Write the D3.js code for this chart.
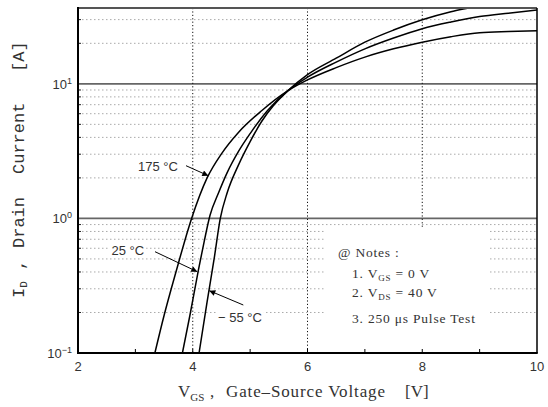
<!DOCTYPE html>
<html><head><meta charset="utf-8">
<script src="https://cdn.jsdelivr.net/npm/d3@7"></script>
<style>
body{margin:0;background:#fff;}
svg{display:block;}
</style></head><body>
<svg id="c" width="548" height="407"></svg>
<script>
// ---- data ----
const xTickLabels = [2, 4, 6, 8, 10];
const xMinorTicks = [3, 4, 5, 6, 7, 8, 9];
const xGridLines = [4, 6, 8];
const yMajorValues = [0.1, 1, 10];
const yMajorExponents = ["\u22121", "0", "1"];
const yMinorValues = [0.2,0.3,0.4,0.5,0.6,0.7,0.8,0.9,2,3,4,5,6,7,8,9,20,30];

const vgs175 = [3.34, 3.5, 3.7, 3.98, 4.25, 4.5, 4.8, 5.2, 5.66, 6.0, 6.5, 7.0, 7.5, 8.0, 8.5, 9.0, 9.5, 10.0];
const id175  = [0.1, 0.19, 0.39, 1.0, 2.0, 3.02, 4.37, 6.31, 8.9, 10.7, 13.2, 15.8, 18.2, 20.4, 22.4, 24.0, 24.5, 24.8];
const vgs25  = [3.82, 3.95, 4.1, 4.2, 4.3, 4.45, 4.6, 4.8, 5.0, 5.3, 5.66, 6.0, 6.5, 7.0, 7.5, 8.0, 8.5, 9.0, 9.5, 10.0];
const id25   = [0.1, 0.19, 0.417, 0.676, 1.05, 1.55, 2.19, 3.16, 4.27, 6.31, 8.9, 11.2, 14.5, 18.2, 21.9, 25.7, 28.8, 31.6, 33.5, 35.3];
const vgsM55 = [4.11, 4.25, 4.38, 4.48, 4.6, 4.8, 5.0, 5.2, 5.4, 5.66, 6.0, 6.5, 7.0, 7.5, 8.0, 8.5, 8.8, 9.2];
const idM55  = [0.1, 0.24, 0.525, 1.0, 1.55, 2.51, 3.72, 5.25, 6.84, 8.9, 11.7, 15.5, 20.4, 25.1, 29.9, 34.3, 36.6, 39.8];

const seriesNames = ["175 \u00B0C", "25 \u00B0C", "\u2212 55 \u00B0C"];
const notes = ["@ Notes :", "1. V", "2. V", "3. 250 \u03BCs Pulse Test"];

// ---- layout ----
const L = 78, R = 537, T = 8, B = 353;
const svg = d3.select("#c");
const x = d3.scaleLinear().domain([2, 10]).range([L, R]);
const y = d3.scaleLog().domain([0.1, 36.6]).range([B, T]);

const defs = svg.append("defs");
defs.append("clipPath").attr("id", "clip").append("rect")
  .attr("x", L).attr("y", T).attr("width", R - L).attr("height", B - T);
defs.append("marker").attr("id", "arr").attr("viewBox", "0 0 10 10")
  .attr("refX", 10).attr("refY", 5).attr("markerWidth", 9).attr("markerHeight", 6)
  .attr("markerUnits", "userSpaceOnUse").attr("orient", "auto")
  .append("path").attr("d", "M0,0L10,5L0,10z").attr("fill", "#000");

// minor horizontal grid
svg.append("g").selectAll("line").data(yMinorValues).join("line")
  .attr("x1", L).attr("x2", R).attr("y1", d => y(d)).attr("y2", d => y(d))
  .attr("stroke", "#aaa").attr("stroke-width", 1).attr("stroke-dasharray", "1.5,2.5");
// minor left ticks
svg.append("g").selectAll("line").data(yMinorValues).join("line")
  .attr("x1", L).attr("x2", L + 3).attr("y1", d => y(d)).attr("y2", d => y(d))
  .attr("stroke", "#222").attr("stroke-width", 1);
// major horizontal lines
svg.append("g").selectAll("line").data(yMajorValues.slice(1)).join("line")
  .attr("x1", L).attr("x2", R).attr("y1", d => y(d)).attr("y2", d => y(d))
  .attr("stroke", "#666").attr("stroke-width", 1.6);
// vertical dotted grid
svg.append("g").selectAll("line").data(xGridLines).join("line")
  .attr("x1", d => x(d)).attr("x2", d => x(d)).attr("y1", T).attr("y2", B)
  .attr("stroke", "#111").attr("stroke-width", 1).attr("stroke-dasharray", "1.2,2.2");

// notes box (white background hiding grid)
svg.append("rect").attr("x", 325).attr("y", 228).attr("width", 163).attr("height", B - 228 - 1)
  .attr("fill", "#fff");

// curves
const line = d3.line().x(d => x(d[0])).y(d => y(d[1])).curve(d3.curveMonotoneX);
const series = [d3.zip(vgs175, id175), d3.zip(vgs25, id25), d3.zip(vgsM55, idM55)];
svg.append("g").attr("clip-path", "url(#clip)").selectAll("path").data(series).join("path")
  .attr("d", line).attr("fill", "none").attr("stroke", "#000").attr("stroke-width", 1.5);

// frame
svg.append("line").attr("x1", L).attr("x2", R).attr("y1", T).attr("y2", T)
  .attr("stroke", "#555").attr("stroke-width", 2);
svg.append("line").attr("x1", R).attr("x2", R).attr("y1", T).attr("y2", B)
  .attr("stroke", "#000").attr("stroke-width", 1.5);
svg.append("line").attr("x1", L).attr("x2", L).attr("y1", T - 1).attr("y2", B + 1)
  .attr("stroke", "#000").attr("stroke-width", 2);
svg.append("line").attr("x1", L - 1).attr("x2", R + 0.75).attr("y1", B).attr("y2", B)
  .attr("stroke", "#000").attr("stroke-width", 2);
// bottom minor ticks
svg.append("g").selectAll("line").data(xMinorTicks).join("line")
  .attr("x1", d => x(d)).attr("x2", d => x(d)).attr("y1", B).attr("y2", B - 4)
  .attr("stroke", "#000").attr("stroke-width", 1);

// x tick labels
svg.append("g").selectAll("text").data(xTickLabels).join("text")
  .attr("x", d => x(d)).attr("y", 371).attr("text-anchor", "middle")
  .attr("font-family", "Liberation Sans").attr("font-size", 13).attr("fill", "#333")
  .text(d => d);
// y tick labels
const yl = svg.append("g").selectAll("text").data(yMajorValues).join("text")
  .attr("x", 72).attr("y", d => y(d) + 5).attr("text-anchor", "end")
  .attr("font-family", "Liberation Sans").attr("font-size", 13).attr("fill", "#333");
yl.append("tspan").text("10");
yl.append("tspan").attr("dy", -5).attr("font-size", 9).text((d, i) => yMajorExponents[i]);

// axis titles
const xt = svg.append("text").attr("y", 397).attr("font-family", "Liberation Serif")
  .attr("font-size", 17).attr("fill", "#333");
xt.append("tspan").attr("x", 178).text("V");
xt.append("tspan").attr("font-size", 11).attr("dy", 4).text("GS");
xt.append("tspan").attr("x", 210).attr("dy", -4).text(",");
xt.append("tspan").attr("x", 226).attr("textLength", 159).attr("lengthAdjust", "spacing").text("Gate\u2013Source Voltage");
xt.append("tspan").attr("x", 405).text("[V]");

const ytl = svg.append("text").attr("transform", "translate(24,298) rotate(-90)")
  .attr("font-family", "Liberation Mono").attr("font-size", 17).attr("fill", "#333");
ytl.append("tspan").attr("x", 0).text("I");
ytl.append("tspan").attr("font-size", 11).attr("dy", 3).text("D");
ytl.append("tspan").attr("x", 28).attr("dy", -3).text(",");
ytl.append("tspan").attr("x", 50).text("Drain");
ytl.append("tspan").attr("x", 124).text("Current");
ytl.append("tspan").attr("x", 226).text("[A]");

// series labels with arrows
const labels = [
  {t: seriesNames[0], tx: 138, ty: 171, a: [186, 165.7, 208.3, 175.7]},
  {t: seriesNames[1], tx: 111.5, ty: 255, a: [155, 251.7, 197.3, 271.7]},
  {t: seriesNames[2], tx: 218, ty: 322, a: [243.3, 305, 209.3, 290.7]}
];
labels.forEach(l => {
  const g = svg.append("g");
  const bg = g.append("rect").attr("fill", "#fff");
  const t = g.append("text").attr("x", l.tx).attr("y", l.ty)
    .attr("font-family", "Liberation Sans").attr("font-size", 13).attr("fill", "#333").text(l.t);
  const bb = t.node().getBBox();
  bg.attr("x", bb.x - 2).attr("y", bb.y).attr("width", bb.width + 4).attr("height", bb.height);
  svg.append("line").attr("x1", l.a[0]).attr("y1", l.a[1]).attr("x2", l.a[2]).attr("y2", l.a[3])
    .attr("stroke", "#000").attr("stroke-width", 1).attr("marker-end", "url(#arr)");
});

// notes
const nf = {"font-family": "Liberation Serif", "font-size": 13.5, "fill": "#333", "letter-spacing": 0.8};
function ntext(xp, yp) {
  const t = svg.append("text").attr("x", xp).attr("y", yp);
  Object.entries(nf).forEach(([k, v]) => t.attr(k, v));
  return t;
}
ntext(338, 257).text(notes[0]);
const n1 = ntext(352, 278);
n1.append("tspan").text(notes[1]);
n1.append("tspan").attr("font-size", 9).attr("dy", 3).text("GS");
n1.append("tspan").attr("dy", -3).text(" = 0 V");
const n2 = ntext(352, 297);
n2.append("tspan").text(notes[2]);
n2.append("tspan").attr("font-size", 9).attr("dy", 3).text("DS");
n2.append("tspan").attr("dy", -3).text(" = 40 V");
ntext(352, 322.5).text(notes[3]);
</script>
</body></html>
